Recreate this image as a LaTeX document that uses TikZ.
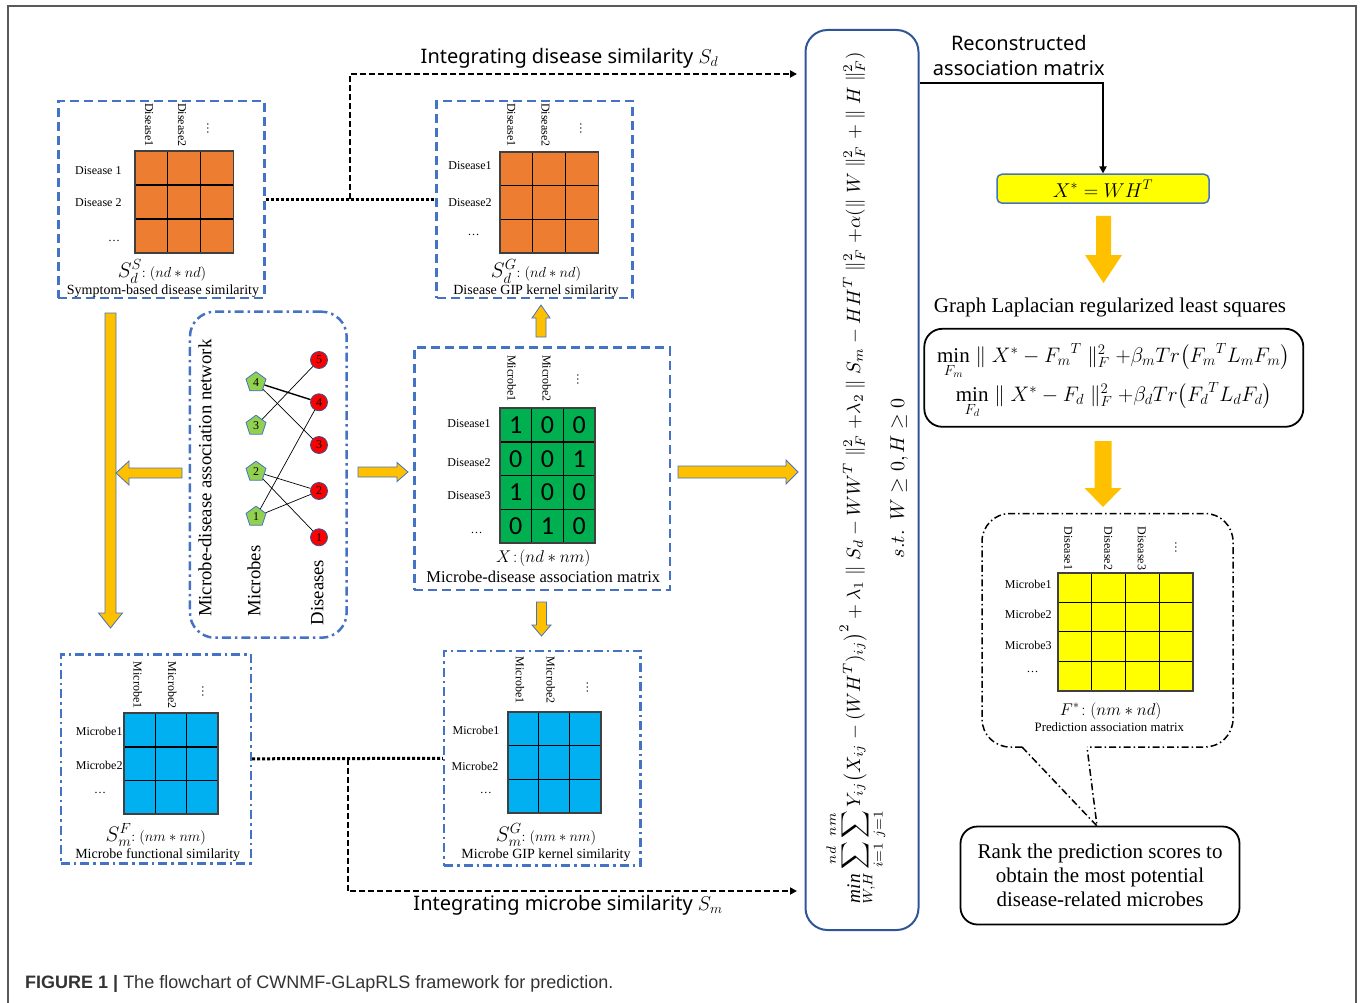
\RequirePackage{fix-cm}
\documentclass[tikz,border=0pt]{standalone}
\usepackage{amsmath}
\usepackage{graphicx}
\usepackage{fontspec}
\setmainfont{Liberation Serif}
\newfontfamily\labelsans{Noto Sans}
\newfontfamily\capsans{Liberation Sans}
\newfontfamily\numsans{Carlito}
\usetikzlibrary{calc,arrows.meta,shapes.geometric}
\definecolor{bluedash}{HTML}{4472C4}
\definecolor{orangec}{HTML}{ED7D31}
\definecolor{greenc}{HTML}{00B050}
\definecolor{cyanc}{HTML}{00B0F0}
\definecolor{yellowc}{HTML}{FFFF00}
\definecolor{arrowy}{HTML}{FFC000}
\definecolor{pentg}{HTML}{92D050}
\definecolor{darkblue}{HTML}{2F5597}
\definecolor{captext}{HTML}{333333}
\newcommand{\fsz}[1]{\fontsize{#1}{#1}\selectfont}
\newcommand{\matgrid}[7]{%
  \fill[#7] (#1,#2) rectangle (#3,#4);
  \pgfmathtruncatemacro\ncm{#5-1}
  \foreach \k in {1,...,\ncm}{\draw[gridl] ({#1+(#3-#1)*\k/#5},#2) -- ({#1+(#3-#1)*\k/#5},#4);}
  \pgfmathtruncatemacro\nrm{#6-1}
  \foreach \k in {1,...,\nrm}{\draw[gridl] (#1,{#2+(#4-#2)*\k/#6}) -- (#3,{#2+(#4-#2)*\k/#6});}
  \draw[line width=1.8pt, draw=black!75] (#1,#2) rectangle (#3,#4);}
\newcommand{\vblock}[7][blockarrow]{%
  \pgfmathsetmacro\yh{#4-sign(#4-#3)*#7}
  \filldraw[#1] ({#2-#5},#3) -- ({#2+#5},#3) -- ({#2+#5},\yh) -- ({#2+#6},\yh) -- (#2,#4) -- ({#2-#6},\yh) -- ({#2-#5},\yh) -- cycle;}
\newcommand{\hblock}[7][blockarrow]{%
  \pgfmathsetmacro\xh{#4-sign(#4-#3)*#7}
  \filldraw[#1] (#3,{#2-#5}) -- (#3,{#2+#5}) -- (\xh,{#2+#5}) -- (\xh,{#2+#6}) -- (#4,#2) -- (\xh,{#2-#6}) -- (\xh,{#2-#5}) -- cycle;}
\begin{document}
\begin{tikzpicture}[x=1pt,y=-1pt,
  lab/.style={font=\fsz{12}, inner sep=0pt},
  collab/.style={lab, rotate=-90, anchor=west},
  gridl/.style={line width=1.2pt, draw=black},
  dashbox/.style={draw=bluedash, line width=2.5pt, dash pattern=on 9pt off 5pt, inner sep=0pt},
  dotdashbox/.style={draw=bluedash, line width=2.5pt, dash pattern=on 9pt off 4pt on 2.5pt off 4pt, inner sep=0pt},
  dotconn/.style={line width=3pt, dash pattern=on 3pt off 2pt},
  dashconn/.style={line width=2pt, dash pattern=on 6pt off 3pt},
  blockarrow/.style={fill=arrowy, draw=bluedash, line width=0.8pt},
  blockarrowN/.style={fill=arrowy, draw=none},
  pent/.style={regular polygon, regular polygon sides=5, minimum size=21pt, fill=pentg, draw=bluedash, line width=0.8pt, inner sep=0pt, font=\fsz{12}},
  dnode/.style={circle, minimum size=17pt, fill=red, draw=darkblue, line width=0.8pt, inner sep=0pt, font=\fsz{12}},
  sublab/.style={inner sep=0pt, anchor=base},
  boxcap/.style={font=\fsz{14}, inner sep=0pt, anchor=base},
  sanslab/.style={font=\labelsans\fsz{20}, inner sep=0pt, align=center},
  tipA/.style={-{Triangle[length=7pt,width=7pt]}}
]
\useasboundingbox (0,0) rectangle (1360,1003);
% outer frame
\draw[black!65, line width=1.3pt] (8,1003) -- (8,6) -- (1356,6) -- (1356,1003);

% ---------- top-left box ----------
\node[dashbox, minimum width=206pt, minimum height=197pt] (bTL) at (161.3,199.5) {};
\matgrid{135}{151}{233.5}{253}{3}{3}{orangec}
\node[collab] (tlc1) at (149,103) {Disease1};
\node[collab] (tlc2) at (182,103) {Disease2};
\node[collab] (tlc3) at (208,122) {\ldots};
\node[lab] (tlr1) at (98.4,171) {Disease 1};
\node[lab] (tlr2) at (98.4,202.7) {Disease 2};
\node[lab] (tlr3) at (114,241) {\ldots};
\node[sublab] (tls) at (162,277.5) {\fsz{21}$S_d^S$\fsz{14.5}$:(nd \ast nd)$};
\node[boxcap] (tlcap) at (163,294.5) {Symptom-based disease similarity};

% ---------- top-middle box ----------
\node[dashbox, minimum width=196pt, minimum height=197pt] (bTM) at (534.5,199.5) {};
\matgrid{500}{151.7}{598.4}{253}{3}{3}{orangec}
\node[collab] (tmc1) at (511.4,103) {Disease1};
\node[collab] (tmc2) at (545.5,103) {Disease2};
\node[collab] (tmc3) at (581,122) {\ldots};
\node[lab] (tmr1) at (470,166) {Disease1};
\node[lab] (tmr2) at (470,202.7) {Disease2};
\node[lab] (tmr3) at (473.6,235) {\ldots};
\node[sublab] (tms) at (536,277.5) {\fsz{21}$S_d^G$\fsz{14.5}$:(nd \ast nd)$};
\node[boxcap] (tmcap) at (536,294.5) {Disease GIP kernel similarity};

% connectors top
\draw[dotconn] (bTL.east) -- (bTM.west);
\coordinate (jTop) at ($(bTL.east)!0.5!(bTM.west)$);
\coordinate (sdEnd) at (797,74);
\draw[dashconn, tipA] (jTop) |- (sdEnd);
\node[sanslab] (sdlab) at (569.5,58) {Integrating disease similarity $S_d$};

% ---------- network box ----------
\node[dotdashbox, rounded corners=25pt, minimum width=156.7pt, minimum height=326pt] (netbox) at (268.3,474.7) {};
\node[rotate=90, font=\fsz{18.7}, inner sep=0pt] (nettitle) at (205,478.3) {Microbe-disease association network};
\node[rotate=90, font=\fsz{18.7}, inner sep=0pt] (mtxt) at (254,581) {Microbes};
\node[rotate=90, font=\fsz{18.7}, inner sep=0pt] (dtxt) at (317.3,592.5) {Diseases};
\node[pent] (m4) at (256,382.3) {4};
\node[pent] (m3) at (256,425.7) {3};
\node[pent] (m2) at (256,471.7) {2};
\node[pent] (m1) at (256,516.7) {1};
\node[dnode] (d5) at (319,360) {5};
\node[dnode] (d4) at (319,402.3) {4};
\node[dnode] (d3) at (319,445) {3};
\node[dnode] (d2) at (319,491) {2};
\node[dnode] (d1) at (319,537.3) {1};
\draw[line width=1.4pt] (m4) -- (d4);
\draw[line width=0.7pt] (m4) -- (d3);
\draw[line width=0.7pt] (m3) -- (d5);
\draw[line width=0.7pt] (m2) -- (d2);
\draw[line width=0.7pt] (m2) -- (d1);
\draw[line width=0.7pt] (m1) -- (d4);
\draw[line width=0.7pt] (m1) -- (d2);

% ---------- center matrix box ----------
\node[dashbox, minimum width=255.7pt, minimum height=242.3pt] (bMX) at (542.2,468.8) {};
\matgrid{500}{408.3}{595}{542.7}{3}{4}{greenc}
\node[collab] (mxc1) at (511.7,355) {Microbe1};
\node[collab] (mxc2) at (546.7,355) {Microbe2};
\node[collab] (mxc3) at (578,373) {\ldots};
\node[lab] (mxr1) at (469,424) {Disease1};
\node[lab] (mxr2) at (469,462.3) {Disease2};
\node[lab] (mxr3) at (469,495.7) {Disease3};
\node[lab] (mxr4) at (476.7,533) {\ldots};
\foreach \r/\row in {0/{1,0,0},1/{0,0,1},2/{1,0,0},3/{0,1,0}}{
  \foreach \v [count=\c from 0] in \row {
    \node[font=\numsans\fsz{26}, inner sep=0pt] (v\r\c) at ({515.8+31.67*\c},{425.1+33.6*\r}) {\v};
  }
}
\node[sublab, font=\fsz{17}] (mxs) at (543.3,562) {$X\!:\!(nd \ast nm)$};
\node[sublab, font=\fsz{16.5}] (mxcap) at (543.3,582) {Microbe-disease association matrix};

% ---------- bottom-left box ----------
\node[dotdashbox, minimum width=190pt, minimum height=209pt] (bBL) at (155.8,758.8) {};
\matgrid{124.2}{713.3}{218}{814.3}{3}{3}{cyanc}
\node[collab] (blc1) at (137.7,661.7) {Microbe1};
\node[collab] (blc2) at (172.3,661.7) {Microbe2};
\node[collab] (blc3) at (203,685) {\ldots};
\node[lab] (blr1) at (99.2,731.7) {Microbe1};
\node[lab] (blr2) at (99.2,765.7) {Microbe2};
\node[lab] (blr3) at (100,793) {\ldots};
\node[sublab] (bls) at (155.8,841) {\fsz{21}$S_m^F$\fsz{14.5}$:(nm \ast nm)$};
\node[boxcap] (blcap) at (157.7,858.5) {Microbe functional similarity};

% ---------- bottom-middle box ----------
\node[dotdashbox, minimum width=196.2pt, minimum height=214.7pt] (bBM) at (542.3,758.3) {};
\matgrid{507.7}{711.7}{600.8}{813.3}{3}{3}{cyanc}
\node[collab] (bmc1) at (520,656.7) {Microbe1};
\node[collab] (bmc2) at (550.8,656.7) {Microbe2};
\node[collab] (bmc3) at (587.3,681) {\ldots};
\node[lab] (bmr1) at (476,730) {Microbe1};
\node[lab] (bmr2) at (475,766) {Microbe2};
\node[lab] (bmr3) at (485.8,793) {\ldots};
\node[sublab] (bms) at (546,841) {\fsz{21}$S_m^G$\fsz{14.5}$:(nm \ast nm)$};
\node[boxcap] (bmcap) at (546,858.5) {Microbe GIP kernel similarity};

% connectors bottom
\draw[dotconn] (bBL.east) -- (bBM.west);
\coordinate (jBot) at ($(bBL.east)!0.5!(bBM.west)$);
\coordinate (smEnd) at (797,891);
\draw[dashconn, tipA] (jBot) |- (smEnd);
\node[sanslab] (smlab) at (568,905) {Integrating microbe similarity $S_m$};

% ---------- yellow block arrows ----------
\vblock{110.5}{313}{628}{5.5}{12}{15}
\hblock{473}{182}{116}{5}{12}{13}
\hblock{472}{358}{408}{5}{9.5}{11}
\vblock{541}{337}{305}{5}{9}{13}
\vblock{541.5}{602}{636}{5}{9.5}{11}
\hblock{472}{678}{798}{6}{12}{12}
\vblock[blockarrowN]{1103.5}{216}{283}{7.5}{18.5}{28}
\vblock[blockarrowN]{1103}{441}{507}{8.5}{18.5}{19}

% ---------- formula box ----------
\node[draw=darkblue, line width=2pt, rounded corners=22pt, minimum width=113pt, minimum height=900pt, inner sep=0pt] (fbox) at (862,480) {};
\node[rotate=90, anchor=base, inner sep=0pt] (obj) at (860,478.3) {\resizebox{853pt}{!}{$\displaystyle \mathop{\mathit{min}}\limits_{W,H} \sum_{i=1}^{nd}\sum_{j=1}^{nm} Y_{ij}\bigl(X_{ij}-(WH^T)_{ij}\bigr)^2 + \lambda_1 \parallel S_d - WW^T \parallel_F^2 + \lambda_2 \parallel S_m - HH^T \parallel_F^2 + \alpha(\parallel W \parallel_F^2 + \parallel H \parallel_F^2)$}};
\node[rotate=90, anchor=base, inner sep=0pt] (st) at (904,478) {\resizebox{160pt}{!}{$s.t.\ \ W \geq 0, H \geq 0$}};

% ---------- right column ----------
\node[sanslab, font=\labelsans\fontsize{20}{25}\selectfont, align=center] (recon) at (1018.8,56) {Reconstructed\\association matrix};
\node[draw=bluedash, fill=yellowc, line width=1.5pt, rounded corners=5pt, minimum width=212pt, minimum height=29pt, inner sep=0pt, font=\fsz{20}] (xstar) at (1103,188.7) {$X^* = WH^T$};
\draw[line width=1.8pt, tipA] (fbox.east |- 0,83) -| (xstar.north);
\node[font=\fsz{21}, inner sep=0pt] (gltitle) at (1110,307) {Graph Laplacian regularized least squares};
\node[draw=black, line width=1.8pt, rounded corners=18pt, minimum width=379pt, minimum height=98pt, inner sep=0pt] (glbox) at (1113.8,377.8) {};
\node[anchor=base, inner sep=0pt, font=\fsz{21}] (gl1) at (1113.5,362) {$\min\limits_{F_m} \parallel X^* - {F_m}^T \parallel_F^2 + \beta_m Tr\bigl({F_m}^T L_m F_m\bigr)$};
\node[anchor=base, inner sep=0pt, font=\fsz{21}] (gl2) at (1114,401) {$\min\limits_{F_d} \parallel X^* - F_d \parallel_F^2 + \beta_d Tr\bigl({F_d}^T L_d F_d\bigr)$};

% callout
\coordinate (tailtip) at (1097,826);
\draw[line width=1.5pt, dash pattern=on 7pt off 3pt on 1.5pt off 3pt, rounded corners=28pt] (1022,747) -- (982,747) -- (982,513.5) -- (1233,513.5) -- (1233,747) -- (1087,747);
\draw[line width=1.5pt, dash pattern=on 7pt off 3pt on 1.5pt off 3pt] (1022,747) -- (tailtip) -- (1087,747);
\matgrid{1057.7}{572.7}{1193.3}{691}{4}{4}{yellowc}
\node[collab] (cc1) at (1068.3,526.7) {Disease1};
\node[collab] (cc2) at (1108.3,526.7) {Disease2};
\node[collab] (cc3) at (1141.7,526.7) {Disease3};
\node[collab] (cc4) at (1176,541.7) {\ldots};
\node[lab] (cr1) at (1028.3,584) {Microbe1};
\node[lab] (cr2) at (1028.3,614) {Microbe2};
\node[lab] (cr3) at (1028.3,645) {Microbe3};
\node[lab] (cr4) at (1032.7,672) {\ldots};
\node[sublab, font=\fsz{17}] (cfs) at (1110.7,715) {$F^*\!:(nm \ast nd)$};
\node[sublab, font=\fsz{12.8}] (ccap) at (1109.3,731) {Prediction association matrix};

\node[draw=black, line width=1.8pt, rounded corners=17pt, minimum width=279pt, minimum height=98pt, align=center, font=\fontsize{21}{24.3}\selectfont] (rank) at (1100,875.5) {Rank the prediction scores to\\obtain the most potential\\disease-related microbes};

% caption
\node[anchor=base west, inner sep=0pt, font=\capsans\fsz{18}, text=captext] (caption) at (25,988) {\textbf{FIGURE 1 |} The flowchart of CWNMF-GLapRLS framework for prediction.};
\end{tikzpicture}
\end{document}
